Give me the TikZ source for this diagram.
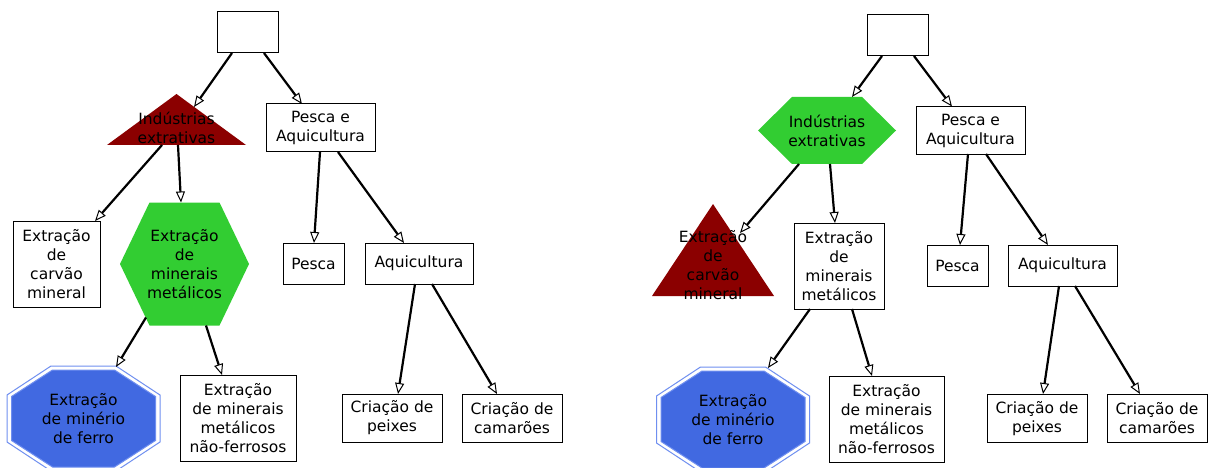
\documentclass[tikz,border=0pt]{standalone}
\usepackage{fontspec}
\setmainfont{DejaVu Sans}
\usetikzlibrary{arrows.meta,backgrounds}

\definecolor{extred}{HTML}{8B0000}
\definecolor{extgreen}{HTML}{32CD32}
\definecolor{extblue}{HTML}{4169E1}
\definecolor{extblueline}{HTML}{6F8FF0}

% hexagon around a node: node, half width, half top edge, half height
\newcommand\hexoutline[4]{([shift={(-#2,0)}]#1.center) -- ([shift={(-#3,-#4)}]#1.center) -- ([shift={(#3,-#4)}]#1.center) -- ([shift={(#2,0)}]#1.center) -- ([shift={(#3,#4)}]#1.center) -- ([shift={(-#3,#4)}]#1.center) -- cycle}
% octagon around a node: node, half width, half top edge, half height, half side
\newcommand\octoutline[5]{([shift={(-#3,-#4)}]#1.center) -- ([shift={(#3,-#4)}]#1.center) -- ([shift={(#2,-#5)}]#1.center) -- ([shift={(#2,#5)}]#1.center) -- ([shift={(#3,#4)}]#1.center) -- ([shift={(-#3,#4)}]#1.center) -- ([shift={(-#2,#5)}]#1.center) -- ([shift={(-#2,-#5)}]#1.center) -- cycle}
% triangle around a node: node, apex rise, half base, base drop
\newcommand\trioutline[4]{([shift={(0,-#2)}]#1.center) -- ([shift={(#3,#4)}]#1.center) -- ([shift={(-#3,#4)}]#1.center) -- cycle}

\tikzset{
  lbl/.style={inner sep=0pt, align=center, font=\fontsize{15.5pt}{19pt}\selectfont},
  box/.style={lbl, draw=black, line width=1pt},
  edge/.style={line width=2.2pt, -{Triangle[length=11pt, width=9pt, fill=white, line width=1pt]}},
}

\begin{document}
\begin{tikzpicture}[x=1pt, y=-1pt]
\useasboundingbox (0,0) rectangle (1216,468);

% ---------- left tree ----------
\node[box, minimum width=61pt, minimum height=41pt] (rootL) at (247.5,32.5) {};
\node[lbl] (indL) at (176.5,128) {Indústrias\\extrativas};
\node[box, minimum width=109pt, minimum height=48pt] (peaL) at (320.5,128) {Pesca e\\Aquicultura};
\node[box, minimum width=87pt, minimum height=86pt] (carvL) at (56.5,264) {Extração\\de\\carvão\\mineral};
\node[lbl] (metL) at (184.5,264) {Extração\\de\\minerais\\metálicos};
\node[box, minimum width=61pt, minimum height=41pt] (pescaL) at (313.5,263.5) {Pesca};
\node[box, minimum width=108pt, minimum height=41pt] (aquiL) at (419,263.5) {Aquicultura};
\node[lbl] (ferroL) at (83.5,418.5) {Extração\\de minério\\de ferro};
\node[box, minimum width=116pt, minimum height=86pt] (naoL) at (238,418) {Extração\\de minerais\\metálicos\\não-ferrosos};
\node[box, minimum width=100pt, minimum height=48pt] (peixL) at (392,418) {Criação de\\peixes};
\node[box, minimum width=100pt, minimum height=48pt] (camL) at (512,418) {Criação de\\camarões};

% ---------- right tree ----------
\node[box, minimum width=61pt, minimum height=41pt] (rootR) at (897.5,35.5) {};
\node[lbl] (indR) at (827,130.5) {Indústrias\\extrativas};
\node[box, minimum width=109pt, minimum height=48pt] (peaR) at (970.5,130.5) {Pesca e\\Aquicultura};
\node[lbl] (carvR) at (713,265) {Extração\\de\\carvão\\mineral};
\node[box, minimum width=90pt, minimum height=86pt] (metR) at (839,266) {Extração\\de\\minerais\\metálicos};
\node[box, minimum width=61pt, minimum height=41pt] (pescaR) at (957.5,265.5) {Pesca};
\node[box, minimum width=109pt, minimum height=41pt] (aquiR) at (1062.5,265.5) {Aquicultura};
\node[lbl] (ferroR) at (733,419.5) {Extração\\de minério\\de ferro};
\node[box, minimum width=115pt, minimum height=86pt] (naoR) at (886.5,419) {Extração\\de minerais\\metálicos\\não-ferrosos};
\node[box, minimum width=100pt, minimum height=48pt] (peixR) at (1037,418.5) {Criação de\\peixes};
\node[box, minimum width=100pt, minimum height=48pt] (camR) at (1157,418.5) {Criação de\\camarões};

% ---------- filled shapes behind the labels ----------
\begin{pgfonlayer}{background}
  \fill[white] (0,0) rectangle (1216,468);
  \fill[extred] \trioutline{indL}{34}{69.5}{17};
  \fill[extgreen] \hexoutline{metL}{64.5}{35}{61.5};
  \filldraw[fill=extblue, draw=extblueline, line width=1pt] \octoutline{ferroL}{72}{31}{48.5}{22};
  \draw[extblueline, line width=1pt] \octoutline{ferroL}{76.5}{32.5}{52.5}{23.5};

  \fill[extgreen] \hexoutline{indR}{69}{35}{33.5};
  \fill[extred] \trioutline{carvR}{61}{61}{31};
  \filldraw[fill=extblue, draw=extblueline, line width=1pt] \octoutline{ferroR}{72}{31}{48.5}{22};
  \draw[extblueline, line width=1pt] \octoutline{ferroR}{76.5}{32.5}{52.5}{23.5};
\end{pgfonlayer}

% ---------- connectors, left tree ----------
\draw[edge] ([shift={(-15.5,20.5)}]rootL.center) -- ([shift={(17.5,-21)}]indL.center);
\draw[edge] ([shift={(16.5,20.5)}]rootL.center) -- ([shift={(-18.5,-24)}]peaL.center);
\draw[edge] ([shift={(-14.5,17)}]indL.center) -- ([shift={(38.5,-43)}]carvL.center);
\draw[edge] ([shift={(1.5,17)}]indL.center) -- ([shift={(-3.5,-61.5)}]metL.center);
\draw[edge] ([shift={(-0.5,24)}]peaL.center) -- ([shift={(0.5,-20.5)}]pescaL.center);
\draw[edge] ([shift={(17.5,24)}]peaL.center) -- ([shift={(-15,-20.5)}]aquiL.center);
\draw[edge] ([shift={(-4,20.5)}]aquiL.center) -- ([shift={(6,-24)}]peixL.center);
\draw[edge] ([shift={(13,20.5)}]aquiL.center) -- ([shift={(-15,-24)}]camL.center);
\draw[edge] ([shift={(-38.5,53.5)}]metL.center) -- ([shift={(32.5,-51.5)}]ferroL.center);
\draw[edge] ([shift={(21.5,61.5)}]metL.center) -- ([shift={(-16,-43)}]naoL.center);

% ---------- connectors, right tree ----------
\draw[edge] ([shift={(-15.5,20.5)}]rootR.center) -- ([shift={(25,-33.5)}]indR.center);
\draw[edge] ([shift={(16.5,20.5)}]rootR.center) -- ([shift={(-18.5,-24)}]peaR.center);
\draw[edge] ([shift={(-28,33.5)}]indR.center) -- ([shift={(27,-32)}]carvR.center);
\draw[edge] ([shift={(3,33.5)}]indR.center) -- ([shift={(-4,-43)}]metR.center);
\draw[edge] ([shift={(-2.5,23.5)}]peaR.center) -- ([shift={(2.5,-20.5)}]pescaR.center);
\draw[edge] ([shift={(15.5,23.5)}]peaR.center) -- ([shift={(-14.5,-20.5)}]aquiR.center);
\draw[edge] ([shift={(-3.5,20.5)}]aquiR.center) -- ([shift={(6,-24.5)}]peixR.center);
\draw[edge] ([shift={(12.5,20.5)}]aquiR.center) -- ([shift={(-17,-24.5)}]camR.center);
\draw[edge] ([shift={(-29,43)}]metR.center) -- ([shift={(35,-51.5)}]ferroR.center);
\draw[edge] ([shift={(13,43)}]metR.center) -- ([shift={(-14.5,-43)}]naoR.center);
\end{tikzpicture}
\end{document}
